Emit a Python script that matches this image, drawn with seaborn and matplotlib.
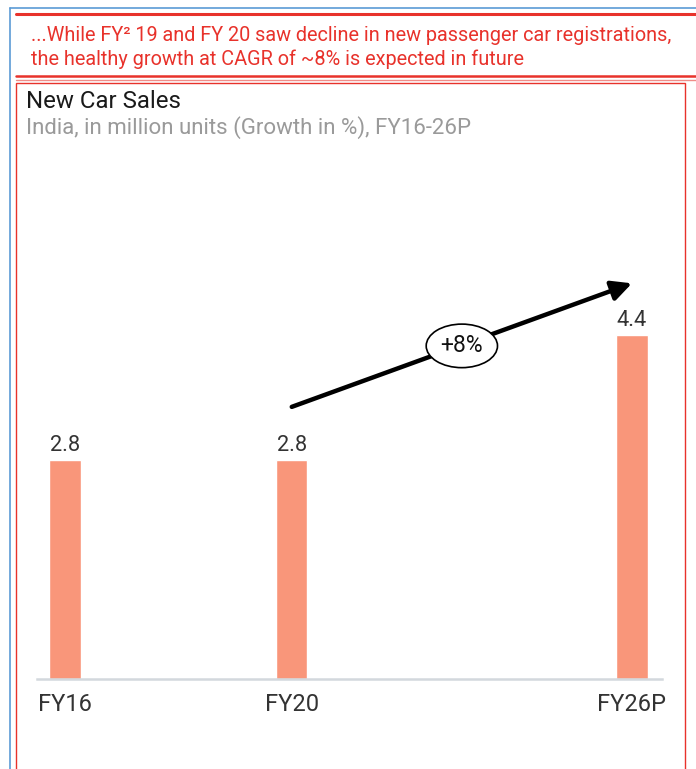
import matplotlib
matplotlib.use("Agg")
import matplotlib.pyplot as plt
from matplotlib.lines import Line2D
from matplotlib.patches import Rectangle
import seaborn as sns
import pandas as pd

# data
years = [16, 20, 26]
labels = ["FY16", "FY20", "FY26P"]
sales = [2.8, 2.8, 4.4]
cagr_label = "+8%"

header = ("...While FY\u00b2 19 and FY 20 saw decline in new passenger car registrations,\n"
          "the healthy growth at CAGR of ~8% is expected in future")
title = "New Car Sales"
subtitle = "India, in million units (Growth in %), FY16-26P"

RED = "#E8322B"
BAR = "#F9967A"
W, H = 696, 769

sns.set_theme(style="white")
plt.rcParams["font.family"] = ["Roboto", "DejaVu Sans"]

fig = plt.figure(figsize=(W / 100, H / 100), dpi=100)


def fx(px):
    return px / W


def fy(py):
    return 1 - py / H


# frames around the slide
fig.add_artist(Line2D([fx(10), fx(10)], [fy(8), 0], color="#5B9BD5", lw=1.2))
fig.add_artist(Line2D([fx(10), 1], [fy(8), fy(8)], color="#5B9BD5", lw=1.2))
fig.add_artist(Line2D([fx(16), 1], [fy(14), fy(14)], color=RED, lw=2.2))
fig.add_artist(Line2D([fx(16), 1], [fy(76), fy(76)], color=RED, lw=1.8))
fig.add_artist(Line2D([fx(16), 1], [fy(80), fy(80)], color="#F08C88", lw=1.0))
fig.add_artist(Rectangle((fx(16), -0.01), fx(685) - fx(16), fy(83) + 0.01,
                         transform=fig.transFigure, fill=False, ec=RED, lw=1.0))

fig.text(fx(31), fy(47.5), header, color=RED, fontsize=14.3, va="center", ha="left",
         linespacing=1.25)
fig.text(fx(26), fy(101), title, color="#1a1a1a", fontsize=17.3, va="center")
fig.text(fx(26), fy(128), subtitle, color="#9a9a9a", fontsize=16, va="center")

ax = fig.add_axes([fx(37), 1 - 679 / H, fx(662) - fx(37), (679 - 150) / H])

df = pd.DataFrame({"year": years, "sales": sales})
sns.barplot(data=df, x="year", y="sales", native_scale=True, width=0.138,
            color=BAR, saturation=1, ax=ax)

for c in ax.containers:
    ax.bar_label(c, labels=[f"{v:.1f}" for v in sales], padding=3,
                 fontsize=15.7, color="#333333")

ax.set_xlim(15.507, 26.53)
ax.set_ylim(0, 6.765)
ax.set_xticks(years)
ax.set_xticklabels(labels, fontsize=17, color="#333333")
ax.set_yticks([])
ax.set_xlabel("")
ax.set_ylabel("")
ax.tick_params(axis="x", length=0, pad=10)
for s in ["top", "right", "left"]:
    ax.spines[s].set_visible(False)
ax.spines["bottom"].set_color("#D3D8DD")
ax.spines["bottom"].set_linewidth(1.8)
ax.patch.set_alpha(0)

# growth arrow
ax.annotate("", xy=(26.0, 5.06), xytext=(20.0, 3.48),
            arrowprops=dict(arrowstyle="-|>,head_length=1.0,head_width=0.5",
                            color="black", lw=3.2, shrinkA=0, shrinkB=0))
ax.text(23.0, 4.26, cagr_label, fontsize=16.5, ha="center", va="center", color="#111111",
        bbox=dict(boxstyle="ellipse,pad=0.17", fc="white", ec="black", lw=1.2))

fig.savefig("out.png", dpi=100)
